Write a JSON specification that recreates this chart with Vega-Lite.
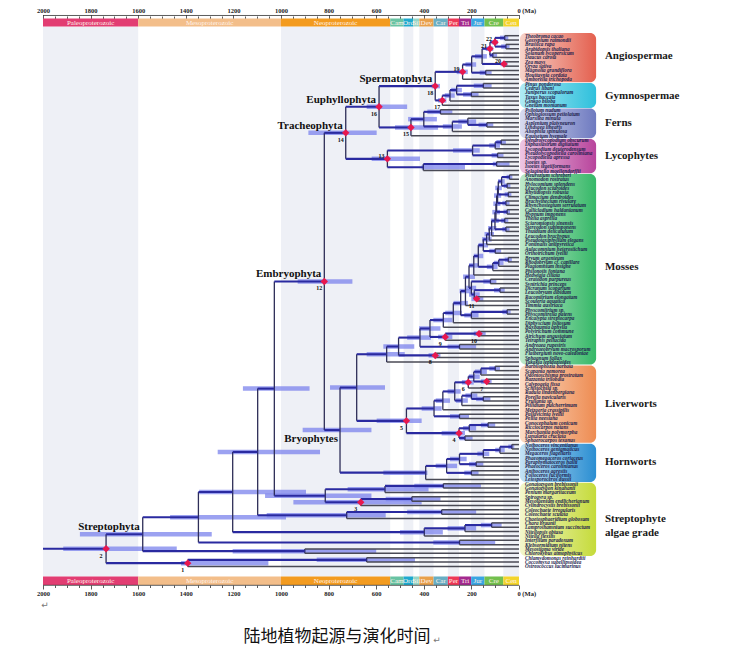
{
"$schema": "https://vega.github.io/schema/vega-lite/v6.json",
"width": 730, "height": 662, "autosize": "none", "padding": 0, "background": "white",
"config": {"view": {"stroke": null}, "axis": {"labelFont": "Liberation Serif", "labelFontWeight": "bold", "labelFontSize": 6.5, "labelColor": "#222", "tickColor": "#333", "tickWidth": 0.8}},
"resolve": {"axis": {"x": "independent", "y": "independent"}},
"datasets": {
"bands": [{"s":2000,"e":1600},{"s":1000,"e":541},{"s":485,"e":444},{"s":419,"e":359},{"s":299,"e":252},{"s":201,"e":145},{"s":66,"e":0}],
"eras": [{"n":"Paleoproterozoic","s":2000,"e":1600},{"n":"Mesoproterozoic","s":1600,"e":1000},{"n":"Neoproterozoic","s":1000,"e":541},{"n":"Cam","s":541,"e":485},{"n":"Ord","s":485,"e":444},{"n":"Sil","s":444,"e":419},{"n":"Dev","s":419,"e":359},{"n":"Car","s":359,"e":299},{"n":"Per","s":299,"e":252},{"n":"Tri","s":252,"e":201},{"n":"Jur","s":201,"e":145},{"n":"Cre","s":145,"e":66},{"n":"Cen","s":66,"e":0}],
"cl": [{"n":"Spermatophyta","a":352,"y":12.59},{"n":"Euphyllophyta","a":588,"y":17.34},{"n":"Tracheophyta","a":728,"y":23.33},{"n":"Embryophyta","a":818,"y":57.5},{"n":"Streptophyta","a":1581,"y":115.6},{"n":"Bryophytes","a":752,"y":91.67}],
"grp": [{"g":"Angiospermae","y0":0.4,"y1":11.7,"ym":5.6,"lab":"Angiospermae"},{"g":"Gymnospermae","y0":11.85,"y1":17.6,"ym":14.8,"lab":"Gymnospermae"},{"g":"Ferns","y0":17.75,"y1":24.6,"ym":21.1,"lab":"Ferns"},{"g":"Lycophytes","y0":24.75,"y1":32.6,"ym":28.7,"lab":"Lycophytes"},{"g":"Mosses","y0":32.8,"y1":76.6,"ym":54.2,"lab":"Mosses"},{"g":"Liverworts","y0":76.8,"y1":94.6,"ym":85.7,"lab":"Liverworts"},{"g":"Hornworts","y0":94.8,"y1":103.6,"ym":99.0,"lab":"Hornworts"},{"g":"Algae","y0":103.8,"y1":120.6,"ym":112.0,"lab":["Streptophyte","algae grade"]}],
"t": [
{"n":"Theobroma cacao","a":0,"p":60,"y":1},{"n":"Gossypium raimondii","a":0,"p":60,"y":2},{"n":"Brassica rapa","a":0,"p":55,"y":3},{"n":"Arabidopsis thaliana","a":0,"p":55,"y":4},{"n":"Solanum lycopersicum","a":0,"p":110,"y":5},{"n":"Daucus carota","a":0,"p":110,"y":6},{"n":"Zea mays","a":0,"p":63,"y":7},{"n":"Oryza sativa","a":0,"p":63,"y":8},{"n":"Magnolia grandiflora","a":0,"p":140,"y":9},{"n":"Houttuynia cordata","a":0,"p":140,"y":10},{"n":"Amborella trichopoda","a":0,"p":237,"y":11},
{"n":"Pinus ponderosa","a":0,"p":150,"y":12},{"n":"Cedrus libani","a":0,"p":150,"y":13},{"n":"Juniperus scopulorum","a":0,"p":200,"y":14},{"n":"Taxus baccata","a":0,"p":200,"y":15},{"n":"Ginkgo biloba","a":0,"p":290,"y":16},{"n":"Gnetum montanum","a":0,"p":322,"y":17},
{"n":"Psilotum nudum","a":0,"p":330,"y":18},{"n":"Ophioglossum petiolatum","a":0,"p":330,"y":19},{"n":"Marsilea minuta","a":0,"p":215,"y":20},{"n":"Asplenium platyneuron","a":0,"p":135,"y":21},{"n":"Lindsaea linearis","a":0,"p":135,"y":22},{"n":"Alsophila spinulosa","a":0,"p":280,"y":23},{"n":"Equisetum hyemale","a":0,"p":454,"y":24},
{"n":"Dendrolycopodium obscurum","a":0,"p":75,"y":25},{"n":"Diphasiastrum digitatum","a":0,"p":75,"y":26},{"n":"Lycopodium deuterodensum","a":0,"p":100,"y":27},{"n":"Pseudolycopodiella caroliniana","a":0,"p":90,"y":28},{"n":"Lycopodiella apressa","a":0,"p":90,"y":29},{"n":"Isoetes sp.","a":0,"p":94,"y":30},{"n":"Isoetes tegetiformans","a":0,"p":94,"y":31},{"n":"Selaginella moellendorffii","a":0,"p":402,"y":32},
{"n":"Pleurozium schreberi","a":0,"p":40,"y":33},{"n":"Anomodon rostratus","a":0,"p":40,"y":34},{"n":"Hylocomium splendens","a":0,"p":50,"y":35},{"n":"Leucodon sciuroides","a":0,"p":50,"y":36},{"n":"Rhytidiopsis robusta","a":0,"p":45,"y":37},{"n":"Climacium dendroides","a":0,"p":45,"y":38},{"n":"Brachythecium rivulare","a":0,"p":55,"y":39},{"n":"Rhynchostegium serrulatum","a":0,"p":55,"y":40},{"n":"Callicladium haldanianum","a":0,"p":50,"y":41},{"n":"Hypnum imponens","a":0,"p":50,"y":42},{"n":"Thelia asprella","a":0,"p":60,"y":43},{"n":"Sciaromiopsis sinensis","a":0,"p":60,"y":44},{"n":"Stereodon subimponens","a":0,"p":55,"y":45},{"n":"Thuidium delicatulum","a":0,"p":55,"y":46},{"n":"Leucodon brachypus","a":0,"p":115,"y":47},{"n":"Pseudotaxiphyllum elegans","a":0,"p":125,"y":48},{"n":"Fontinalis antipyretica","a":0,"p":136,"y":49},{"n":"Aulacomnium heterostichum","a":0,"p":100,"y":50},{"n":"Orthotrichum lyellii","a":0,"p":100,"y":51},{"n":"Bryum argenteum","a":0,"p":45,"y":52},{"n":"Rhodobryum cf. capillare","a":0,"p":45,"y":53},{"n":"Plagiomnium insigne","a":0,"p":85,"y":54},{"n":"Philonotis fontana","a":0,"p":110,"y":55},{"n":"Hedwigia ciliata","a":0,"p":190,"y":56},{"n":"Ceratodon purpureus","a":0,"p":120,"y":57},{"n":"Syntrichia princeps","a":0,"p":120,"y":58},{"n":"Dicranum scoparium","a":0,"p":80,"y":59},{"n":"Leucobryum albidum","a":0,"p":80,"y":60},{"n":"Racomitrium elongatum","a":0,"p":178,"y":61},{"n":"Scouleria aquatica","a":0,"p":178,"y":62},{"n":"Timmia austriaca","a":0,"p":225,"y":63},{"n":"Physcomitrium sp.","a":0,"p":50,"y":64},{"n":"Physcomitrella patens","a":0,"p":50,"y":65},{"n":"Encalypta streptocarpa","a":0,"p":200,"y":66},{"n":"Diphyscium foliosum","a":0,"p":276,"y":67},{"n":"Buxbaumia aphylla","a":0,"p":318,"y":68},{"n":"Polytrichum commune","a":0,"p":168,"y":69},{"n":"Atrichum angustatum","a":0,"p":168,"y":70},{"n":"Tetraphis pellucida","a":0,"p":310,"y":71},{"n":"Andreaea rupestris","a":0,"p":250,"y":72},{"n":"Andreaeobryum macrosporum","a":0,"p":250,"y":73},{"n":"Flatbergium novo-caledoniae","a":0,"p":352,"y":74},{"n":"Sphagnum fallax","a":0,"p":352,"y":75},{"n":"Takakia lepidozioides","a":0,"p":556,"y":76},
{"n":"Barbilophozia barbata","a":0,"p":100,"y":77},{"n":"Scapania nemorea","a":0,"p":100,"y":78},{"n":"Odontoschisma prostratum","a":0,"p":160,"y":79},{"n":"Bazzania trilobata","a":0,"p":136,"y":80},{"n":"Calypogeia fissa","a":0,"p":136,"y":81},{"n":"Schistochila sp.","a":0,"p":213,"y":82},{"n":"Radula lindenbergiana","a":0,"p":200,"y":83},{"n":"Porella navicularis","a":0,"p":150,"y":84},{"n":"Frullania sp.","a":0,"p":150,"y":85},{"n":"Ptilidium pulcherrimum","a":0,"p":240,"y":86},{"n":"Metzgeria crassipilis","a":0,"p":320,"y":87},{"n":"Pallavicinia lyellii","a":0,"p":250,"y":88},{"n":"Pellia neesiana","a":0,"p":250,"y":89},{"n":"Conocephalum conicum","a":0,"p":130,"y":90},{"n":"Ricciocarpos natans","a":0,"p":130,"y":91},{"n":"Marchantia polymorpha","a":0,"p":209,"y":92},{"n":"Lunularia cruciata","a":0,"p":227,"y":93},{"n":"Sphaerocarpos texanus","a":0,"p":227,"y":94},
{"n":"Nothoceros vincentianus","a":0,"p":30,"y":95},{"n":"Nothoceros aenigmaticus","a":0,"p":30,"y":96},{"n":"Megaceros flagellaris","a":0,"p":80,"y":97},{"n":"Phaeomegaceros coriaceus","a":0,"p":150,"y":98},{"n":"Paraphymatoceros hallii","a":0,"p":180,"y":99},{"n":"Phaeoceros carolinianus","a":0,"p":180,"y":100},{"n":"Anthoceros agrestis","a":0,"p":200,"y":101},{"n":"Folioceros fuciformis","a":0,"p":200,"y":102},{"n":"Leiosporoceros dussii","a":0,"p":392,"y":103},
{"n":"Gonatozygon brebissonii","a":0,"p":318,"y":104},{"n":"Gonatozygon kinahanii","a":0,"p":318,"y":105},{"n":"Penium margaritaceum","a":0,"p":563,"y":106},{"n":"Spirogyra sp.","a":0,"p":450,"y":107},{"n":"Mesotaenium endlicherianum","a":0,"p":450,"y":108},{"n":"Cylindrocystis brebissonii","a":0,"p":665,"y":109},{"n":"Coleochaete irregularis","a":0,"p":325,"y":110},{"n":"Coleochaete scutata","a":0,"p":325,"y":111},{"n":"Chaetosphaeridium globosum","a":0,"p":724,"y":112},{"n":"Chara braunii","a":0,"p":115,"y":113},{"n":"Lamprothamnium succinctum","a":0,"p":115,"y":114},{"n":"Nitellopsis obtusa","a":0,"p":227,"y":115},{"n":"Nitella flexilis","a":0,"p":398,"y":116},{"n":"Interfilum paradoxum","a":0,"p":250,"y":117},{"n":"Klebsormidium nitens","a":0,"p":250,"y":118},{"n":"Mesostigma viride","a":0,"p":900,"y":119},{"n":"Chlorokybus atmophyticus","a":0,"p":900,"y":120},{"n":"Chlamydomonas reinhardtii","a":0,"p":640,"y":121},{"n":"Coccomyxa subellipsoidea","a":0,"p":640,"y":122},{"n":"Ostreococcus lucimarinus","a":0,"p":1392,"y":123},
{"a":60,"p":101,"y":1.5,"y1":1,"y2":2,"lo":45,"hi":80},{"a":55,"p":101,"y":3.5,"y1":3,"y2":4,"lo":40,"hi":75},{"a":101,"p":122,"y":2.5,"y1":1.5,"y2":3.5,"lo":88,"hi":115,"cal":22},{"a":110,"p":122,"y":5.5,"y1":5,"y2":6,"lo":92,"hi":125},{"a":122,"p":155,"y":4.0,"y1":2.5,"y2":5.5,"lo":108,"hi":140,"cal":21},{"a":63,"p":155,"y":7.5,"y1":7,"y2":8,"lo":48,"hi":78,"cal":20},{"a":155,"p":199,"y":5.75,"y1":4.0,"y2":7.5,"lo":135,"hi":185},{"a":140,"p":199,"y":9.5,"y1":9,"y2":10,"lo":115,"hi":165},{"a":199,"p":237,"y":7.625,"y1":5.75,"y2":9.5,"lo":180,"hi":225},{"a":237,"p":352,"y":9.31,"y1":7.625,"y2":11,"lo":215,"hi":262,"cal":19},
{"a":150,"p":262,"y":12.5,"y1":12,"y2":13,"lo":115,"hi":190},{"a":200,"p":262,"y":14.5,"y1":14,"y2":15,"lo":170,"hi":235},{"a":262,"p":290,"y":13.5,"y1":12.5,"y2":14.5,"lo":240,"hi":285},{"a":290,"p":322,"y":14.75,"y1":13.5,"y2":16,"lo":270,"hi":312},{"a":322,"p":352,"y":15.875,"y1":14.75,"y2":17,"lo":305,"hi":340,"cal":17},{"a":352,"p":588,"y":12.59,"y1":9.31,"y2":15.875,"lo":332,"hi":367,"cal":18},
{"a":330,"p":400,"y":18.5,"y1":18,"y2":19,"lo":280,"hi":385},{"a":135,"p":215,"y":21.5,"y1":21,"y2":22,"lo":108,"hi":170},{"a":215,"p":280,"y":20.75,"y1":20,"y2":21.5,"lo":180,"hi":255},{"a":280,"p":400,"y":21.875,"y1":20.75,"y2":23,"lo":240,"hi":320},{"a":400,"p":454,"y":20.19,"y1":18.5,"y2":21.875,"lo":345,"hi":466},{"a":454,"p":588,"y":22.09,"y1":20.19,"y2":24,"lo":340,"hi":521,"cal":15},{"a":588,"p":728,"y":17.34,"y1":12.59,"y2":22.09,"lo":470,"hi":640,"cal":16},{"a":728,"p":818,"y":23.33,"y1":17.34,"y2":29.31,"lo":598,"hi":885,"cal":14},
{"a":75,"p":100,"y":25.5,"y1":25,"y2":26,"lo":55,"hi":95},{"a":100,"p":195,"y":26.25,"y1":25.5,"y2":27,"lo":80,"hi":125},{"a":90,"p":195,"y":28.5,"y1":28,"y2":29,"lo":65,"hi":115},{"a":195,"p":553,"y":27.375,"y1":26.25,"y2":28.5,"lo":165,"hi":277},{"a":94,"p":402,"y":30.5,"y1":30,"y2":31,"lo":40,"hi":110},{"a":402,"p":553,"y":31.25,"y1":30.5,"y2":32,"lo":227,"hi":409},{"a":553,"p":728,"y":29.31,"y1":27.375,"y2":31.25,"lo":416,"hi":619,"cal":13},
{"a":556,"p":682,"y":74.23,"y1":72.45,"y2":76,"lo":480,"hi":640},{"a":506,"p":556,"y":72.45,"y1":70.4,"y2":74.5,"lo":440,"hi":570},{"a":352,"p":506,"y":74.5,"y1":74,"y2":75,"lo":330,"hi":380,"cal":8},{"a":416,"p":506,"y":70.4,"y1":68.31,"y2":72.5,"lo":370,"hi":470},{"a":250,"p":416,"y":72.5,"y1":72,"y2":73,"lo":180,"hi":300},{"a":374,"p":416,"y":68.31,"y1":66.37,"y2":70.25,"lo":330,"hi":420},{"a":168,"p":310,"y":69.5,"y1":69,"y2":70,"lo":140,"hi":190,"cal":10},{"a":310,"p":374,"y":70.25,"y1":69.5,"y2":71,"lo":280,"hi":340,"cal":9},{"a":318,"p":374,"y":66.37,"y1":64.74,"y2":68,"lo":280,"hi":360},{"a":276,"p":318,"y":64.74,"y1":62.48,"y2":67,"lo":240,"hi":310},{"a":245,"p":276,"y":62.48,"y1":59.7,"y2":65.25,"lo":215,"hi":275},{"a":50,"p":200,"y":64.5,"y1":64,"y2":65,"lo":35,"hi":70},{"a":200,"p":245,"y":65.25,"y1":64.5,"y2":66,"lo":170,"hi":230},{"a":225,"p":245,"y":59.7,"y1":56.41,"y2":63,"lo":200,"hi":250},{"a":210,"p":225,"y":56.41,"y1":53.82,"y2":59.0,"lo":185,"hi":235},{"a":120,"p":200,"y":57.5,"y1":57,"y2":58,"lo":95,"hi":150},{"a":80,"p":188,"y":59.5,"y1":59,"y2":60,"lo":60,"hi":105},{"a":178,"p":188,"y":61.5,"y1":61,"y2":62,"lo":150,"hi":200,"cal":11},{"a":188,"p":200,"y":60.5,"y1":59.5,"y2":61.5,"lo":165,"hi":210},{"a":200,"p":210,"y":59.0,"y1":57.5,"y2":60.5,"lo":180,"hi":222},{"a":190,"p":210,"y":53.82,"y1":51.64,"y2":56,"lo":170,"hi":210},{"a":171,"p":190,"y":51.64,"y1":49.16,"y2":54.125,"lo":150,"hi":190},{"a":45,"p":85,"y":52.5,"y1":52,"y2":53,"lo":30,"hi":60},{"a":85,"p":110,"y":53.25,"y1":52.5,"y2":54,"lo":65,"hi":105},{"a":110,"p":171,"y":54.125,"y1":53.25,"y2":55,"lo":90,"hi":135},{"a":150,"p":171,"y":49.16,"y1":47.82,"y2":50.5,"lo":130,"hi":170},{"a":100,"p":150,"y":50.5,"y1":50,"y2":51,"lo":75,"hi":125},{"a":136,"p":150,"y":47.82,"y1":46.63,"y2":49,"lo":115,"hi":155},{"a":125,"p":136,"y":46.63,"y1":45.27,"y2":48,"lo":105,"hi":145},{"a":115,"p":125,"y":45.27,"y1":43.53,"y2":47,"lo":95,"hi":130},{"a":101,"p":115,"y":43.53,"y1":41.56,"y2":45.5,"lo":85,"hi":118},{"a":55,"p":101,"y":45.5,"y1":45,"y2":46,"lo":40,"hi":70},{"a":97,"p":101,"y":41.56,"y1":39.625,"y2":43.5,"lo":80,"hi":112},{"a":60,"p":97,"y":43.5,"y1":43,"y2":44,"lo":45,"hi":75},{"a":94,"p":97,"y":39.625,"y1":37.75,"y2":41.5,"lo":78,"hi":108},{"a":50,"p":94,"y":41.5,"y1":41,"y2":42,"lo":38,"hi":65},{"a":90,"p":94,"y":37.75,"y1":36,"y2":39.5,"lo":75,"hi":105},{"a":55,"p":90,"y":39.5,"y1":39,"y2":40,"lo":40,"hi":70},{"a":87,"p":90,"y":36,"y1":34.5,"y2":37.5,"lo":72,"hi":100},{"a":45,"p":87,"y":37.5,"y1":37,"y2":38,"lo":32,"hi":60},{"a":73,"p":87,"y":34.5,"y1":33.5,"y2":35.5,"lo":60,"hi":88},{"a":40,"p":73,"y":33.5,"y1":33,"y2":34,"lo":28,"hi":52},{"a":50,"p":73,"y":35.5,"y1":35,"y2":36,"lo":36,"hi":64},
{"a":100,"p":160,"y":77.5,"y1":77,"y2":78,"lo":80,"hi":125},{"a":160,"p":190,"y":78.25,"y1":77.5,"y2":79,"lo":135,"hi":185},{"a":136,"p":190,"y":80.5,"y1":80,"y2":81,"lo":115,"hi":160,"cal":7},{"a":190,"p":213,"y":79.375,"y1":78.25,"y2":80.5,"lo":165,"hi":210},{"a":213,"p":270,"y":80.69,"y1":79.375,"y2":82,"lo":190,"hi":240,"cal":6},{"a":150,"p":200,"y":84.5,"y1":84,"y2":85,"lo":120,"hi":180},{"a":200,"p":240,"y":83.75,"y1":83,"y2":84.5,"lo":175,"hi":225},{"a":240,"p":270,"y":84.875,"y1":83.75,"y2":86,"lo":215,"hi":265},{"a":270,"p":320,"y":82.78,"y1":80.69,"y2":84.875,"lo":245,"hi":300},{"a":320,"p":357,"y":84.89,"y1":82.78,"y2":87,"lo":290,"hi":350},{"a":250,"p":357,"y":88.5,"y1":88,"y2":89,"lo":210,"hi":290},{"a":357,"p":473,"y":86.7,"y1":84.89,"y2":88.5,"lo":325,"hi":409},{"a":130,"p":209,"y":90.5,"y1":90,"y2":91,"lo":100,"hi":160},{"a":209,"p":252,"y":91.25,"y1":90.5,"y2":92,"lo":180,"hi":235},{"a":227,"p":252,"y":93.5,"y1":93,"y2":94,"lo":195,"hi":250},{"a":252,"p":473,"y":92.375,"y1":91.25,"y2":93.5,"lo":227,"hi":325,"cal":4},{"a":473,"p":682,"y":89.54,"y1":86.7,"y2":92.375,"lo":409,"hi":598,"cal":5},{"a":682,"p":752,"y":81.89,"y1":74.23,"y2":89.54,"lo":563,"hi":794},
{"a":30,"p":80,"y":95.5,"y1":95,"y2":96,"lo":20,"hi":45},{"a":80,"p":150,"y":96.25,"y1":95.5,"y2":97,"lo":60,"hi":100},{"a":150,"p":250,"y":97.125,"y1":96.25,"y2":98,"lo":125,"hi":175},{"a":180,"p":250,"y":99.5,"y1":99,"y2":100,"lo":150,"hi":210},{"a":250,"p":304,"y":98.31,"y1":97.125,"y2":99.5,"lo":220,"hi":290},{"a":200,"p":304,"y":101.5,"y1":101,"y2":102,"lo":170,"hi":230},{"a":304,"p":392,"y":99.9,"y1":98.31,"y2":101.5,"lo":260,"hi":350},{"a":392,"p":752,"y":101.45,"y1":99.9,"y2":103,"lo":385,"hi":570},{"a":752,"p":818,"y":91.67,"y1":81.89,"y2":101.45,"lo":620,"hi":909},{"a":818,"p":1028,"y":57.5,"y1":23.33,"y2":91.67,"lo":700,"hi":930,"cal":12},
{"a":318,"p":563,"y":104.5,"y1":104,"y2":105,"lo":160,"hi":440},{"a":563,"p":814,"y":105.25,"y1":104.5,"y2":106,"lo":380,"hi":720},{"a":450,"p":665,"y":107.5,"y1":107,"y2":108,"lo":330,"hi":560},{"a":665,"p":814,"y":108.25,"y1":107.5,"y2":109,"lo":409,"hi":948,"cal":3},{"a":814,"p":1028,"y":106.75,"y1":105.25,"y2":108.25,"lo":620,"hi":1067},{"a":1028,"p":1098,"y":82.13,"y1":57.5,"y2":106.75,"lo":880,"hi":1160},{"a":325,"p":724,"y":110.5,"y1":110,"y2":111,"lo":180,"hi":470},{"a":724,"p":1098,"y":111.25,"y1":110.5,"y2":112,"lo":560,"hi":1060},{"a":1098,"p":1203,"y":96.69,"y1":82.13,"y2":111.25,"lo":836,"hi":1266},{"a":115,"p":227,"y":113.5,"y1":113,"y2":114,"lo":73,"hi":160},{"a":227,"p":398,"y":114.25,"y1":113.5,"y2":115,"lo":180,"hi":300},{"a":398,"p":1203,"y":115.125,"y1":114.25,"y2":116,"lo":320,"hi":500},{"a":1203,"p":1347,"y":105.91,"y1":96.69,"y2":115.125,"lo":895,"hi":1344},{"a":250,"p":1347,"y":117.5,"y1":117,"y2":118,"lo":100,"hi":360},{"a":1347,"p":1581,"y":111.7,"y1":105.91,"y2":117.5,"lo":979,"hi":1466},{"a":900,"p":1581,"y":119.5,"y1":119,"y2":120,"lo":600,"hi":1203},{"a":1581,"p":1735,"y":115.6,"y1":111.7,"y2":119.5,"lo":1291,"hi":1845},{"a":640,"p":1392,"y":121.5,"y1":121,"y2":122,"lo":437,"hi":850},{"a":1392,"p":1735,"y":122.25,"y1":121.5,"y2":123,"lo":1053,"hi":1420,"cal":1},{"a":1735,"p":2000,"y":118.93,"y1":115.6,"y2":122.25,"lo":1438,"hi":1915,"cal":2}
]
},
"layer": [
{"data": {"name": "bands"}, "mark": {"type": "rect", "color": "#eef0f6"},
 "encoding": {"x": {"field": "s", "type": "quantitative", "scale": {"domain": [2180.7, -886.6], "nice": false, "zero": false}, "axis": null}, "x2": {"field": "e"},
  "y": {"datum": -1.115, "type": "quantitative", "scale": {"domain": [-7.207, 144.98], "reverse": true, "nice": false, "zero": false}, "axis": null}, "y2": {"datum": 125.32}}},
{"data": {"name": "eras"}, "mark": {"type": "rect"},
 "encoding": {"x": {"field": "s", "type": "quantitative", "axis": {"orient": "top", "offset": -18.5, "domain": false, "grid": false, "title": null, "labelOverlap": false, "labelFlush": false, "labelBound": false, "labelPadding": 1,
   "values": [2000,1950,1900,1850,1800,1750,1700,1650,1600,1550,1500,1450,1400,1350,1300,1250,1200,1150,1100,1050,1000,950,900,850,800,750,700,650,600,550,500,450,400,350,300,250,200,150,100,50,0],
   "labelExpr": "datum.value % 200 == 0 ? (datum.value == 0 ? '0 (Ma)' : '' + datum.value) : ''",
   "tickSize": {"condition": {"test": "datum.value % 200 == 0", "value": 4}, "value": 2.5},
   "labelAlign": {"condition": {"test": "datum.value == 0", "value": "left"}, "value": "center"},
   "labelOffset": {"condition": {"test": "datum.value == 0", "value": -2}, "value": 0}}},
  "x2": {"field": "e"}, "y": {"datum": -2.954, "axis": null}, "y2": {"datum": -1.115},
  "color": {"field": "n", "type": "nominal", "legend": null, "scale": {"domain": ["Paleoproterozoic","Mesoproterozoic","Neoproterozoic","Cam","Ord","Sil","Dev","Car","Per","Tri","Jur","Cre","Cen"], "range": ["#e23d72","#f3be8a","#f39b1f","#68c3a3","#1ea9cf","#96d5c6","#e8a04c","#68aec4","#ee3856","#a42a8f","#3aa5e2","#73c04e","#f3d42c"]}}}},
{"data": {"name": "eras"}, "mark": {"type": "rect"},
 "encoding": {"x": {"field": "s", "type": "quantitative", "axis": {"orient": "bottom", "offset": -77, "domain": false, "grid": false, "title": null, "labelOverlap": false, "labelFlush": false, "labelBound": false, "labelPadding": 1,
   "values": [2000,1950,1900,1850,1800,1750,1700,1650,1600,1550,1500,1450,1400,1350,1300,1250,1200,1150,1100,1050,1000,950,900,850,800,750,700,650,600,550,500,450,400,350,300,250,200,150,100,50,0],
   "labelExpr": "datum.value % 200 == 0 ? (datum.value == 0 ? '0 (Ma)' : '' + datum.value) : ''",
   "tickSize": {"condition": {"test": "datum.value % 200 == 0", "value": 4}, "value": 2.5},
   "labelAlign": {"condition": {"test": "datum.value == 0", "value": "left"}, "value": "center"},
   "labelOffset": {"condition": {"test": "datum.value == 0", "value": -2}, "value": 0}}},
  "x2": {"field": "e"}, "y": {"datum": 125.32, "axis": null}, "y2": {"datum": 127.28},
  "color": {"field": "n", "type": "nominal", "legend": null}}},
{"data": {"name": "eras"}, "transform": [{"fold": ["s", "e"], "as": ["k", "v"]}, {"aggregate": [{"op": "mean", "field": "v", "as": "m"}], "groupby": ["n"]}],
 "mark": {"type": "text", "font": "Liberation Serif", "fontSize": 7, "color": "#fff3ea", "baseline": "middle"},
 "encoding": {"x": {"field": "m", "type": "quantitative", "axis": null}, "y": {"datum": -2.03, "axis": null}, "text": {"field": "n"}}},
{"data": {"name": "eras"}, "transform": [{"fold": ["s", "e"], "as": ["k", "v"]}, {"aggregate": [{"op": "mean", "field": "v", "as": "m"}], "groupby": ["n"]}],
 "mark": {"type": "text", "font": "Liberation Serif", "fontSize": 7, "color": "#fff3ea", "baseline": "middle"},
 "encoding": {"x": {"field": "m", "type": "quantitative", "axis": null}, "y": {"datum": 126.3, "axis": null}, "text": {"field": "n"}}},
{"data": {"values": [{}]}, "mark": {"type": "rule", "color": "#333", "strokeWidth": 0.8},
 "encoding": {"x": {"datum": 2000, "axis": null}, "x2": {"datum": 0}, "y": {"datum": -3.644, "axis": null}}},
{"data": {"values": [{}]}, "mark": {"type": "rule", "color": "#333", "strokeWidth": 0.8},
 "encoding": {"x": {"datum": 2000, "axis": null}, "x2": {"datum": 0}, "y": {"datum": 127.35, "axis": null}}},
{"data": {"name": "t"}, "transform": [{"filter": "isValid(datum.lo)"}], "mark": {"type": "rule", "color": "#7b83ec", "opacity": 0.75, "strokeWidth": 4.5},
 "encoding": {"x": {"field": "lo", "type": "quantitative", "axis": null}, "x2": {"field": "hi"}, "y": {"field": "y", "type": "quantitative", "axis": null}}},
{"data": {"name": "t"}, "transform": [{"filter": "datum.a > 0"}], "mark": {"type": "rule", "color": "#2e2e58", "strokeWidth": 1.3},
 "encoding": {"x": {"field": "a", "type": "quantitative", "axis": null}, "y": {"field": "y1", "type": "quantitative", "axis": null}, "y2": {"field": "y2"}}},
{"data": {"name": "t"}, "transform": [{"filter": "datum.a > 0"}], "mark": {"type": "rule", "color": "#2a2aa0", "strokeWidth": 2.1},
 "encoding": {"x": {"field": "p", "type": "quantitative", "axis": null}, "x2": {"field": "a"}, "y": {"field": "y", "type": "quantitative", "axis": null}}},
{"data": {"name": "t"}, "transform": [{"filter": "datum.a == 0"}], "mark": {"type": "rule", "color": "#4a4a55", "strokeWidth": 1.5},
 "encoding": {"x": {"field": "p", "type": "quantitative", "axis": null}, "x2": {"field": "a"}, "y": {"field": "y", "type": "quantitative", "axis": null}}},
{"data": {"name": "t"}, "transform": [{"filter": "isValid(datum.cal)"}], "mark": {"type": "point", "shape": "diamond", "filled": true, "size": 55, "color": "#e8184e", "opacity": 1},
 "encoding": {"x": {"field": "a", "type": "quantitative", "axis": null}, "y": {"field": "y", "type": "quantitative", "axis": null}}},
{"data": {"name": "t"}, "transform": [{"filter": "isValid(datum.cal) && indexof([13,19,20,21,22], datum.cal) < 0"}], "mark": {"type": "text", "font": "Liberation Serif", "fontWeight": "bold", "fontSize": 6, "color": "#111", "dx": -5, "dy": 7, "baseline": "middle"},
 "encoding": {"x": {"field": "a", "type": "quantitative", "axis": null}, "y": {"field": "y", "type": "quantitative", "axis": null}, "text": {"field": "cal"}}},
{"data": {"name": "t"}, "transform": [{"filter": "isValid(datum.cal) && indexof([13,19,20,21,22], datum.cal) >= 0"}], "mark": {"type": "text", "font": "Liberation Serif", "fontWeight": "bold", "fontSize": 6, "color": "#111", "dx": -6, "dy": -3, "baseline": "middle"},
 "encoding": {"x": {"field": "a", "type": "quantitative", "axis": null}, "y": {"field": "y", "type": "quantitative", "axis": null}, "text": {"field": "cal"}}},
{"data": {"name": "cl"}, "transform": [{"filter": "datum.n != 'Bryophytes'"}], "mark": {"type": "text", "font": "Liberation Serif", "fontWeight": "bold", "fontSize": 11, "color": "#111", "align": "right", "baseline": "alphabetic", "dx": -3, "dy": -4},
 "encoding": {"x": {"field": "a", "type": "quantitative", "axis": null}, "y": {"field": "y", "type": "quantitative", "axis": null}, "text": {"field": "n"}}},
{"data": {"name": "cl"}, "transform": [{"filter": "datum.n == 'Bryophytes'"}], "mark": {"type": "text", "font": "Liberation Serif", "fontWeight": "bold", "fontSize": 11, "color": "#111", "align": "right", "baseline": "top", "dx": -2, "dy": 3},
 "encoding": {"x": {"field": "a", "type": "quantitative", "axis": null}, "y": {"field": "y", "type": "quantitative", "axis": null}, "text": {"field": "n"}}},
{"data": {"name": "grp"}, "transform": [{"filter": "datum.g == 'Angiospermae'"}], "mark": {"type": "rect", "cornerRadius": 6, "fill": {"gradient": "linear", "x1": 0, "y1": 0, "x2": 1, "y2": 0, "stops": [{"offset": 0, "color": "#f7d3ca"}, {"offset": 1, "color": "#e4604f"}]}},
 "encoding": {"x": {"datum": -4, "axis": null}, "x2": {"datum": -324}, "y": {"field": "y0", "type": "quantitative", "axis": null}, "y2": {"field": "y1"}}},
{"data": {"name": "grp"}, "transform": [{"filter": "datum.g == 'Gymnospermae'"}], "mark": {"type": "rect", "cornerRadius": 6, "fill": {"gradient": "linear", "x1": 0, "y1": 0, "x2": 1, "y2": 0, "stops": [{"offset": 0, "color": "#b0ebf4"}, {"offset": 1, "color": "#2ec0dc"}]}},
 "encoding": {"x": {"datum": -4, "axis": null}, "x2": {"datum": -324}, "y": {"field": "y0", "type": "quantitative", "axis": null}, "y2": {"field": "y1"}}},
{"data": {"name": "grp"}, "transform": [{"filter": "datum.g == 'Ferns'"}], "mark": {"type": "rect", "cornerRadius": 6, "fill": {"gradient": "linear", "x1": 0, "y1": 0, "x2": 1, "y2": 0, "stops": [{"offset": 0, "color": "#d8dbf0"}, {"offset": 1, "color": "#6e7ac0"}]}},
 "encoding": {"x": {"datum": -4, "axis": null}, "x2": {"datum": -324}, "y": {"field": "y0", "type": "quantitative", "axis": null}, "y2": {"field": "y1"}}},
{"data": {"name": "grp"}, "transform": [{"filter": "datum.g == 'Lycophytes'"}], "mark": {"type": "rect", "cornerRadius": 6, "fill": {"gradient": "linear", "x1": 0, "y1": 0, "x2": 1, "y2": 0, "stops": [{"offset": 0, "color": "#eec6e3"}, {"offset": 1, "color": "#b8449c"}]}},
 "encoding": {"x": {"datum": -4, "axis": null}, "x2": {"datum": -324}, "y": {"field": "y0", "type": "quantitative", "axis": null}, "y2": {"field": "y1"}}},
{"data": {"name": "grp"}, "transform": [{"filter": "datum.g == 'Mosses'"}], "mark": {"type": "rect", "cornerRadius": 6, "fill": {"gradient": "linear", "x1": 0, "y1": 0, "x2": 1, "y2": 0, "stops": [{"offset": 0, "color": "#bfe9cb"}, {"offset": 1, "color": "#36b868"}]}},
 "encoding": {"x": {"datum": -4, "axis": null}, "x2": {"datum": -324}, "y": {"field": "y0", "type": "quantitative", "axis": null}, "y2": {"field": "y1"}}},
{"data": {"name": "grp"}, "transform": [{"filter": "datum.g == 'Liverworts'"}], "mark": {"type": "rect", "cornerRadius": 6, "fill": {"gradient": "linear", "x1": 0, "y1": 0, "x2": 1, "y2": 0, "stops": [{"offset": 0, "color": "#fcdcc6"}, {"offset": 1, "color": "#ee8c52"}]}},
 "encoding": {"x": {"datum": -4, "axis": null}, "x2": {"datum": -324}, "y": {"field": "y0", "type": "quantitative", "axis": null}, "y2": {"field": "y1"}}},
{"data": {"name": "grp"}, "transform": [{"filter": "datum.g == 'Hornworts'"}], "mark": {"type": "rect", "cornerRadius": 6, "fill": {"gradient": "linear", "x1": 0, "y1": 0, "x2": 1, "y2": 0, "stops": [{"offset": 0, "color": "#c3e2f5"}, {"offset": 1, "color": "#2a8ed2"}]}},
 "encoding": {"x": {"datum": -4, "axis": null}, "x2": {"datum": -324}, "y": {"field": "y0", "type": "quantitative", "axis": null}, "y2": {"field": "y1"}}},
{"data": {"name": "grp"}, "transform": [{"filter": "datum.g == 'Algae'"}], "mark": {"type": "rect", "cornerRadius": 6, "fill": {"gradient": "linear", "x1": 0, "y1": 0, "x2": 1, "y2": 0, "stops": [{"offset": 0, "color": "#f3f6cc"}, {"offset": 1, "color": "#c5db3a"}]}},
 "encoding": {"x": {"datum": -4, "axis": null}, "x2": {"datum": -324}, "y": {"field": "y0", "type": "quantitative", "axis": null}, "y2": {"field": "y1"}}},
{"data": {"name": "grp"}, "mark": {"type": "text", "font": "Liberation Serif", "fontWeight": "bold", "fontSize": 11, "color": "#1a1a1a", "align": "left", "baseline": "middle", "lineHeight": 14},
 "encoding": {"x": {"datum": -361, "axis": null}, "y": {"field": "ym", "type": "quantitative", "axis": null}, "text": {"field": "lab"}}},
{"data": {"name": "t"}, "transform": [{"filter": "datum.a == 0"}], "mark": {"type": "text", "font": "Liberation Serif", "fontStyle": "italic", "fontWeight": "bold", "fontSize": 5.2, "color": "#1d1d4d", "align": "left", "baseline": "middle"},
 "encoding": {"x": {"datum": -25, "axis": null}, "y": {"field": "y", "type": "quantitative", "axis": null}, "text": {"field": "n"}}},
{"data": {"values": [{"c": "陆地植物起源与演化时间"}]}, "mark": {"type": "text", "font": "Noto Sans CJK SC", "fontSize": 17, "color": "#111", "align": "center", "baseline": "middle"},
 "encoding": {"x": {"datum": 764.7, "axis": null}, "y": {"datum": 139.23, "axis": null}, "text": {"field": "c"}}},
{"data": {"values": [{"c": "↵"}]}, "mark": {"type": "text", "font": "DejaVu Sans", "fontSize": 9, "color": "#777", "align": "center", "baseline": "middle"},
 "encoding": {"x": {"datum": 1991.6, "axis": null}, "y": {"datum": 131.87, "axis": null}, "text": {"field": "c"}}},
{"data": {"values": [{"c": "↵"}]}, "mark": {"type": "text", "font": "DejaVu Sans", "fontSize": 9, "color": "#777", "align": "center", "baseline": "middle"},
 "encoding": {"x": {"datum": 344.5, "axis": null}, "y": {"datum": 139.92, "axis": null}, "text": {"field": "c"}}}
]
}
